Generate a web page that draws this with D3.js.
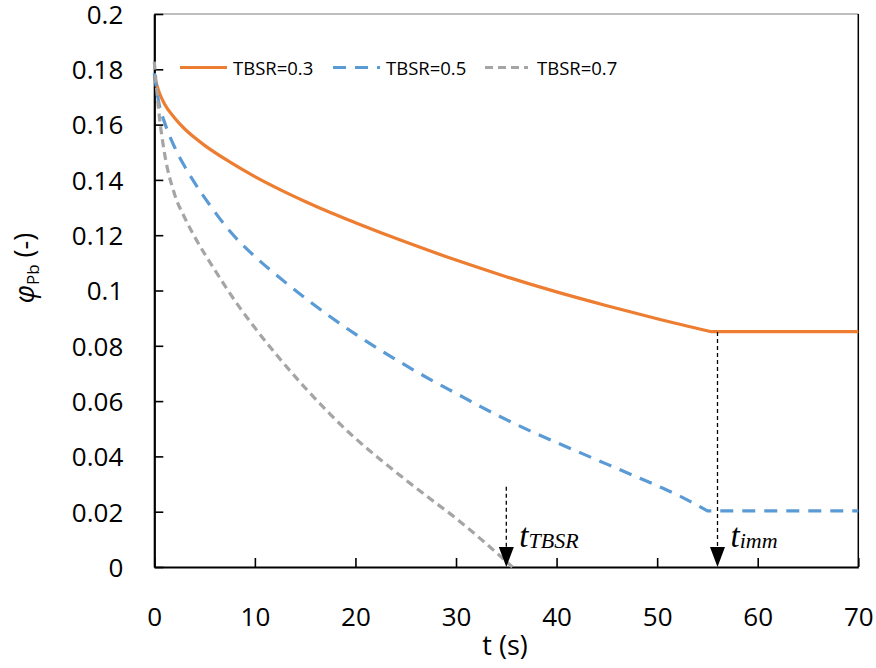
<!DOCTYPE html>
<html><head><meta charset="utf-8">
<script src="https://cdn.jsdelivr.net/npm/d3@7"></script>
<style>body{margin:0;background:#fff}svg{display:block}</style>
</head><body>
<script>
const xTicks = [0,10,20,30,40,50,60,70];
const yTicks = [0,0.02,0.04,0.06,0.08,0.1,0.12,0.14,0.16,0.18,0.2];
const seriesNames = ["TBSR=0.3","TBSR=0.5","TBSR=0.7"];
const t03 = [0,0.5,1,2,3,4,5,7.5,10,12.5,15,17.5,20,25,30,35,40,45,50,55.4,70];
const v03 = [0.1775,0.1715,0.1675,0.1625,0.1585,0.1553,0.1525,0.1465,0.1412,0.1365,0.1322,0.1282,0.1245,0.1175,0.1110,0.1050,0.0995,0.0945,0.0898,0.0851,0.0851];
const t05 = [0,0.5,1,2,3,4,5.5,7.5,10,12.5,15,17.5,20,22.5,25,27.5,30,32.5,35,37.5,40,42.5,45,47.5,50,52.5,55,70];
const v05 = [0.1786,0.167,0.161,0.152,0.145,0.139,0.131,0.1215,0.1123,0.1045,0.0973,0.0905,0.0842,0.0784,0.0729,0.0677,0.0628,0.0579,0.0533,0.0490,0.0450,0.0411,0.0372,0.0333,0.0294,0.0252,0.0203,0.0203];
const t07 = [0,0.5,1,2,3,4,6,8.5,10,12.5,15,17.5,20,22.5,25,27.5,30,32.5,35.6];
const v07 = [0.1828,0.163,0.150,0.1350,0.1265,0.1195,0.1075,0.0938,0.0865,0.0752,0.0648,0.0552,0.0465,0.0388,0.0315,0.0245,0.0176,0.0100,0];
const cornerIndex = [t03.length-2, t05.length-2, t07.length-1];
const markers = [{t:35.0, top:0.029, label:"t", sub:"TBSR"},{t:56.0, top:0.085, label:"t", sub:"imm"}];

const W=876,H=668;
const svg=d3.select("body").append("svg").attr("width",W).attr("height",H);
const x=d3.scaleLinear().domain([0,70]).range([154.3,858.3]);
const y=d3.scaleLinear().domain([0,0.2]).range([567,14]);
const font="'Open Sans', Lato, sans-serif";

svg.append("line").attr("x1",x(0)).attr("x2",x(70)).attr("y1",y(0.2)).attr("y2",y(0.2)).attr("stroke","#7f7f7f").attr("stroke-width",1);
svg.append("line").attr("x1",x(70)).attr("x2",x(70)).attr("y1",y(0.2)).attr("y2",y(0)).attr("stroke","#000").attr("stroke-width",1.5);

const yAxis=svg.append("g").attr("transform",`translate(${x(0)},0)`)
  .call(d3.axisLeft(y).tickValues(yTicks).tickSizeInner(-9).tickSizeOuter(0).tickPadding(31)
    .tickFormat(d=>d===0?"0":String(+d.toFixed(2))));
const xAxis=svg.append("g").attr("transform",`translate(0,${y(0)})`)
  .call(d3.axisBottom(x).tickValues(xTicks).tickSizeInner(-9).tickSizeOuter(0).tickPadding(41));
[yAxis,xAxis].forEach(g=>{
  g.select(".domain").attr("stroke","#000").attr("stroke-width",2.2);
  g.selectAll(".tick line").attr("stroke","#000").attr("stroke-width",1.6);
  g.selectAll("text").attr("font-family",font).attr("font-size",26).attr("fill","#000");
});
yAxis.selectAll(".tick text").attr("dy","0.36em");

const curve=d3.line().x(d=>x(d[0])).y(d=>y(d[1])).curve(d3.curveMonotoneX);
const series=[
  {t:t03,v:v03,color:"#ED7D31",dash:null},
  {t:t05,v:v05,color:"#5B9BD5",dash:"13,9"},
  {t:t07,v:v07,color:"#A5A5A5",dash:"8,5"}
];
series.forEach((s,i)=>{
  const pts=d3.zip(s.t,s.v);
  const k=cornerIndex[i];
  let d=curve(pts.slice(0,k+1));
  pts.slice(k+1).forEach(p=>{ d+=`L${x(p[0])},${y(p[1])}`; });
  svg.append("path").attr("d",d).attr("fill","none")
    .attr("stroke",s.color).attr("stroke-width",3.2).attr("stroke-dasharray",s.dash);
});

markers.forEach(m=>{
  const cx=x(m.t);
  svg.append("line").attr("x1",cx).attr("x2",cx).attr("y1",y(m.top)).attr("y2",y(0)-18)
    .attr("stroke","#000").attr("stroke-width",1.3).attr("stroke-dasharray","4,3");
  svg.append("path").attr("d",`M${cx-7.5},${y(0)-20}L${cx+7.5},${y(0)-20}L${cx},${y(0)}Z`).attr("fill","#000");
  const tx=svg.append("text").attr("x",cx+13).attr("y",547).attr("font-family","'Liberation Serif', serif")
    .attr("font-style","italic").attr("font-size",33);
  tx.append("tspan").text(m.label);
  tx.append("tspan").attr("font-size",22).attr("dy",1).text(m.sub);
});

const leg=[{x1:180,x2:227,tx:233},{x1:333,x2:380,tx:386},{x1:485,x2:528,tx:537}];
series.forEach((s,i)=>{
  svg.append("line").attr("x1",leg[i].x1).attr("x2",leg[i].x2).attr("y1",67.5).attr("y2",67.5)
    .attr("stroke",s.color).attr("stroke-width",3.2).attr("stroke-dasharray",s.dash);
  svg.append("text").attr("x",leg[i].tx).attr("y",74.5).attr("font-family",font).attr("font-size",18.5)
    .text(seriesNames[i]);
});

svg.append("text").attr("x",505).attr("y",655).attr("text-anchor","middle").attr("font-family",font).attr("font-size",27).text("t (s)");
const yt=svg.append("text").attr("transform","translate(34,268) rotate(-90)").attr("text-anchor","middle").attr("font-family",font).attr("font-size",27);
yt.append("tspan").attr("font-style","italic").text("φ");
yt.append("tspan").attr("font-size",17).attr("dy",5).text("Pb");
yt.append("tspan").attr("dy",-5).text(" (-)");
</script>
</body></html>
